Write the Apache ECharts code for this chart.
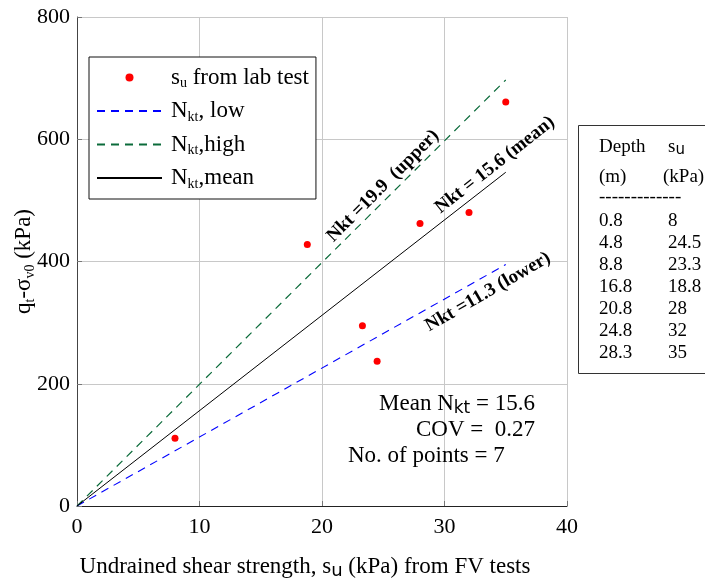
<!DOCTYPE html>
<html><head><meta charset="utf-8">
<script src="https://cdn.jsdelivr.net/npm/echarts@6/dist/echarts.min.js"></script>
<style>html,body{margin:0;padding:0;background:#fff}#c{width:705px;height:582px}</style>
</head><body><div id="c"></div>
<script>
// ---- data ----
const labSu   = [8, 18.8, 23.3, 24.5, 28, 32, 35];
const labQnet = [111, 428, 295, 237, 462, 480, 661];
const lowLine  = [[0, 0], [35, 395]];
const highLine = [[0, 0], [35, 697]];
const meanLine = [[0, 0], [35, 546]];
const xMin = 0, xMax = 40, xStep = 10;
const yMin = 0, yMax = 800, yStep = 200;
const tableDepth = ['0.8', '4.8', '8.8', '16.8', '20.8', '24.8', '28.3'];
const tableSu    = ['8', '24.5', '23.3', '18.8', '28', '32', '35'];
const lineLabels = ['Nkt =19.9  (upper)', 'Nkt = 15.6 (mean)', 'Nkt =11.3 (lower)'];
const statMean = '15.6', statCov = '0.27', statN = '7';

const SERIF = 'Liberation Serif, Times New Roman, serif';
const SANS = 'DejaVu Sans, sans-serif';
const chart = echarts.init(document.getElementById('c'));

const legendRich = {
  t: { fontFamily: SERIF, fontSize: 23, color: '#000', lineHeight: 26 },
  s: { fontFamily: SERIF, fontSize: 14, color: '#000', lineHeight: 14, verticalAlign: 'bottom' }
};
const legendNames = {
  'su from lab test': '{t|s}{s|u}{t| from lab test}',
  'Nkt, low': '{t|N}{s|kt}{t|, low}',
  'Nkt,high': '{t|N}{s|kt}{t|,high}',
  'Nkt,mean': '{t|N}{s|kt}{t|,mean}'
};

const pts = labSu.map((x, i) => [x, labQnet[i]]);

const tableChildren = [];
const tx1 = 599, tx2 = 668, rowY0 = 221, rowDy = 22;
const tFont = '19px ' + SERIF;
tableChildren.push({ type: 'rect', shape: { x: 578.5, y: 125.5, width: 160, height: 248 }, style: { fill: '#fff', stroke: '#333', lineWidth: 1 } });
tableChildren.push({ type: 'text', x: tx1, y: 147, style: { text: 'Depth', font: tFont, fill: '#000', textVerticalAlign: 'middle' } });
tableChildren.push({ type: 'text', x: tx2, y: 147, style: {
  text: '{a|s}{b|u}', fill: '#000', textVerticalAlign: 'middle',
  rich: { a: { fontFamily: SERIF, fontSize: 19, lineHeight: 22 }, b: { fontFamily: SANS, fontSize: 15, lineHeight: 15, verticalAlign: 'bottom' } } } });
tableChildren.push({ type: 'text', x: tx1, y: 177, style: { text: '(m)', font: tFont, fill: '#000', textVerticalAlign: 'middle' } });
tableChildren.push({ type: 'text', x: tx2 - 5, y: 177, style: { text: '(kPa)', font: tFont, fill: '#000', textVerticalAlign: 'middle' } });
tableChildren.push({ type: 'text', x: tx1, y: 197, style: { text: '-------------', font: tFont, fill: '#000', textVerticalAlign: 'middle' } });
tableDepth.forEach((d, i) => {
  tableChildren.push({ type: 'text', x: tx1, y: rowY0 + i * rowDy, style: { text: d, font: tFont, fill: '#000', textVerticalAlign: 'middle' } });
  tableChildren.push({ type: 'text', x: tx2, y: rowY0 + i * rowDy, style: { text: tableSu[i], font: tFont, fill: '#000', textVerticalAlign: 'middle' } });
});

const labelFont = 'bold 19px ' + SERIF;
const deg = Math.PI / 180;
const hideDot = { opacity: 0 };

chart.setOption({
  animation: false,
  backgroundColor: '#fff',
  grid: { left: 77, right: 138, top: 17, bottom: 76, containLabel: false, outerBoundsMode: 'none' },
  xAxis: {
    type: 'value', min: xMin, max: xMax, interval: xStep,
    axisLine: { show: true, lineStyle: { color: '#222', width: 1 } },
    axisTick: { show: true, inside: true, length: 5, lineStyle: { color: '#777' } },
    splitLine: { show: true, lineStyle: { color: '#c8c8c8', width: 1 } },
    axisLabel: { fontFamily: SERIF, fontSize: 22, color: '#000', margin: 10 },
    name: '{t|Undrained shear strength, s}{u|u}{t| (kPa) from FV tests}',
    nameLocation: 'middle', nameGap: 48, nameMoveOverlap: false,
    nameTextStyle: { padding: [0, 34, 0, 0], rich: {
      t: { fontFamily: SERIF, fontSize: 23, color: '#000', lineHeight: 26 },
      u: { fontFamily: SANS, fontSize: 18, color: '#000', lineHeight: 18, verticalAlign: 'bottom' } } }
  },
  yAxis: {
    type: 'value', min: yMin, max: yMax, interval: yStep,
    axisLine: { show: true, lineStyle: { color: '#444', width: 1 } },
    axisTick: { show: true, inside: true, length: 5, lineStyle: { color: '#777' } },
    splitLine: { show: true, lineStyle: { color: '#c8c8c8', width: 1 } },
    axisLabel: { fontFamily: SERIF, fontSize: 22, color: '#000', margin: 7 },
    name: '{t|q}{s|t}{t|-σ}{s|v0}{t| (kPa)}',
    nameLocation: 'middle', nameGap: 40, nameRotate: 90, nameMoveOverlap: false,
    nameTextStyle: { rich: {
      t: { fontFamily: SERIF, fontSize: 23, color: '#000', lineHeight: 26 },
      s: { fontFamily: SERIF, fontSize: 14, color: '#000', lineHeight: 14, verticalAlign: 'bottom' } } }
  },
  legend: {
    orient: 'vertical', left: 89, top: 57,
    backgroundColor: '#fff', borderColor: '#111', borderWidth: 1, borderRadius: 0,
    padding: [9, 7, 8, 7], itemWidth: 65, itemHeight: 8, itemGap: 9,
    data: [
      { name: 'su from lab test' },
      { name: 'Nkt, low', itemStyle: hideDot },
      { name: 'Nkt,high', itemStyle: hideDot },
      { name: 'Nkt,mean', itemStyle: hideDot }
    ],
    formatter: n => legendNames[n],
    textStyle: { rich: legendRich, padding: [0, 0, 0, 4] }
  },
  series: [
    { name: 'su from lab test', type: 'scatter', data: pts, symbol: 'circle', symbolSize: 7,
      itemStyle: { color: '#ff0000', opacity: 1 }, z: 5 },
    { name: 'Nkt, low', type: 'line', data: lowLine, showSymbol: false, symbol: 'none',
      lineStyle: { color: '#0000ff', width: 1.1, type: [8, 6] }, itemStyle: { color: '#0000ff' } },
    { name: 'Nkt,high', type: 'line', data: highLine, showSymbol: false, symbol: 'none',
      lineStyle: { color: '#0b6b3a', width: 1.2, type: [8, 6] }, itemStyle: { color: '#0b6b3a' } },
    { name: 'Nkt,mean', type: 'line', data: meanLine, showSymbol: false, symbol: 'none',
      lineStyle: { color: '#000', width: 1 }, itemStyle: { color: '#000' } }
  ],
  graphic: [
    { type: 'text', x: 383, y: 186, rotation: 45 * deg, z: 10,
      style: { text: lineLabels[0], font: labelFont, fill: '#000', textAlign: 'center', textVerticalAlign: 'middle' } },
    { type: 'text', x: 495, y: 165, rotation: 38 * deg, z: 10,
      style: { text: lineLabels[1], font: labelFont, fill: '#000', textAlign: 'center', textVerticalAlign: 'middle' } },
    { type: 'text', x: 488, y: 292, rotation: 30 * deg, z: 10,
      style: { text: lineLabels[2], font: labelFont, fill: '#000', textAlign: 'center', textVerticalAlign: 'middle' } },
    { type: 'text', x: 535, y: 404, z: 10, style: {
      text: '{t|Mean N}{k|kt}{t| = ' + statMean + '}', textAlign: 'right', textVerticalAlign: 'middle',
      rich: { t: { fontFamily: SERIF, fontSize: 23, fill: '#000', lineHeight: 26 },
              k: { fontFamily: SANS, fontSize: 17, fill: '#000', lineHeight: 17, verticalAlign: 'bottom' } } } },
    { type: 'text', x: 535, y: 430, z: 10, style: {
      text: 'COV =  ' + statCov, font: '23px ' + SERIF, fill: '#000', textAlign: 'right', textVerticalAlign: 'middle' } },
    { type: 'text', x: 348, y: 456, z: 10, style: {
      text: 'No. of points = ' + statN, font: '23px ' + SERIF, fill: '#000', textAlign: 'left', textVerticalAlign: 'middle' } },
    { type: 'group', children: tableChildren }
  ]
});
</script>
</body></html>
